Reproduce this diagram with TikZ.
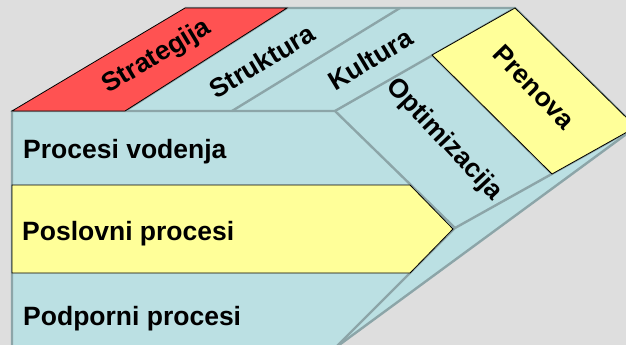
\documentclass[tikz,border=0pt]{standalone}
\usepackage{fontspec}
\setmainfont{Liberation Sans}
\begin{document}
\begin{tikzpicture}[x=1pt,y=-1pt,
  facefill/.style={fill=paleblue},
  edgeline/.style={draw=edgegray,line width=2.4pt,line join=round},
  accent/.style={draw=black,line width=0.8pt,line join=miter},
  label/.style={font=\fontsize{26.5}{31}\selectfont\bfseries,inner sep=0pt,text=black},
  rowlabel/.style={label,anchor=base west}]
\definecolor{paleblue}{HTML}{BBE0E3}
\definecolor{edgegray}{HTML}{8CA5A8}
\definecolor{hotred}{HTML}{FF5252}
\definecolor{paleyellow}{HTML}{FFFF99}
\definecolor{bggray}{HTML}{DEDEDE}

% canvas
\fill[bggray] (0,0) rectangle (626,345);
\useasboundingbox (0,0) rectangle (626,345);
\clip (0,0) rectangle (626,345);

% corner points of the block
\coordinate (ftl) at (12,111);
\coordinate (ftr) at (335,111);
\coordinate (tip) at (455,228);
\coordinate (fbr) at (335,348);
\coordinate (fbl) at (12,348);
\coordinate (bl) at (185,8);
\coordinate (br) at (515,8);
\coordinate (rr) at (636,127);
% dividers on the top face
\coordinate (t1) at (125,111);
\coordinate (t2) at (232,111);
\coordinate (u1) at (287,8);
\coordinate (u2) at (400,8);
% divider on the side face
\coordinate (s1) at (432,55);
\coordinate (s2) at (552,174);

% top face
\path[facefill] (ftl) -- (ftr) -- (br) -- (bl) -- cycle;
% side face
\path[facefill] (ftr) -- (br) -- (rr) -- (fbr) -- (tip) -- cycle;
% front face
\path[facefill] (ftl) -- (ftr) -- (tip) -- (fbr) -- (fbl) -- cycle;

% edges
\draw[edgeline] (fbl) -- (ftl) -- (ftr) -- (tip) -- (fbr);
\draw[edgeline] (bl) -- (br) -- (rr) -- (fbr);
\draw[edgeline] (ftr) -- (br);
\draw[edgeline] (tip) -- (rr);
\draw[edgeline] (t2) -- (u2);
\draw[edgeline] (t1) -- (u1);
\draw[edgeline] (s1) -- (s2);

% highlighted panels
\draw[accent,fill=hotred] (ftl) -- (t1) -- (u1) -- (bl) -- cycle;
\draw[accent,fill=paleyellow] (s1) -- (br) -- (rr) -- (s2) -- cycle;
\draw[accent,fill=paleyellow] (12,185) -- (410,185) -- (453,229) -- (410,273) -- (12,273) -- cycle;

% labels on the top face
\node[label,rotate=31] (strategija) at (157,57) {Strategija};
\node[label,rotate=31] (struktura) at (262,61) {Struktura};
\node[label,rotate=31] (kultura) at (370,59) {Kultura};
% labels on the side face
\node[label,rotate=-47] (optimizacija) at (444,140) {Optimizacija};
\node[label,rotate=-46] (prenova) at (534,87) {Prenova};
% labels on the front face
\node[rowlabel] (vodenja) at (23,158) {Procesi vodenja};
\node[rowlabel] (poslovni) at (22,240) {Poslovni procesi};
\node[rowlabel] (podporni) at (23,325) {Podporni procesi};
\end{tikzpicture}
\end{document}
